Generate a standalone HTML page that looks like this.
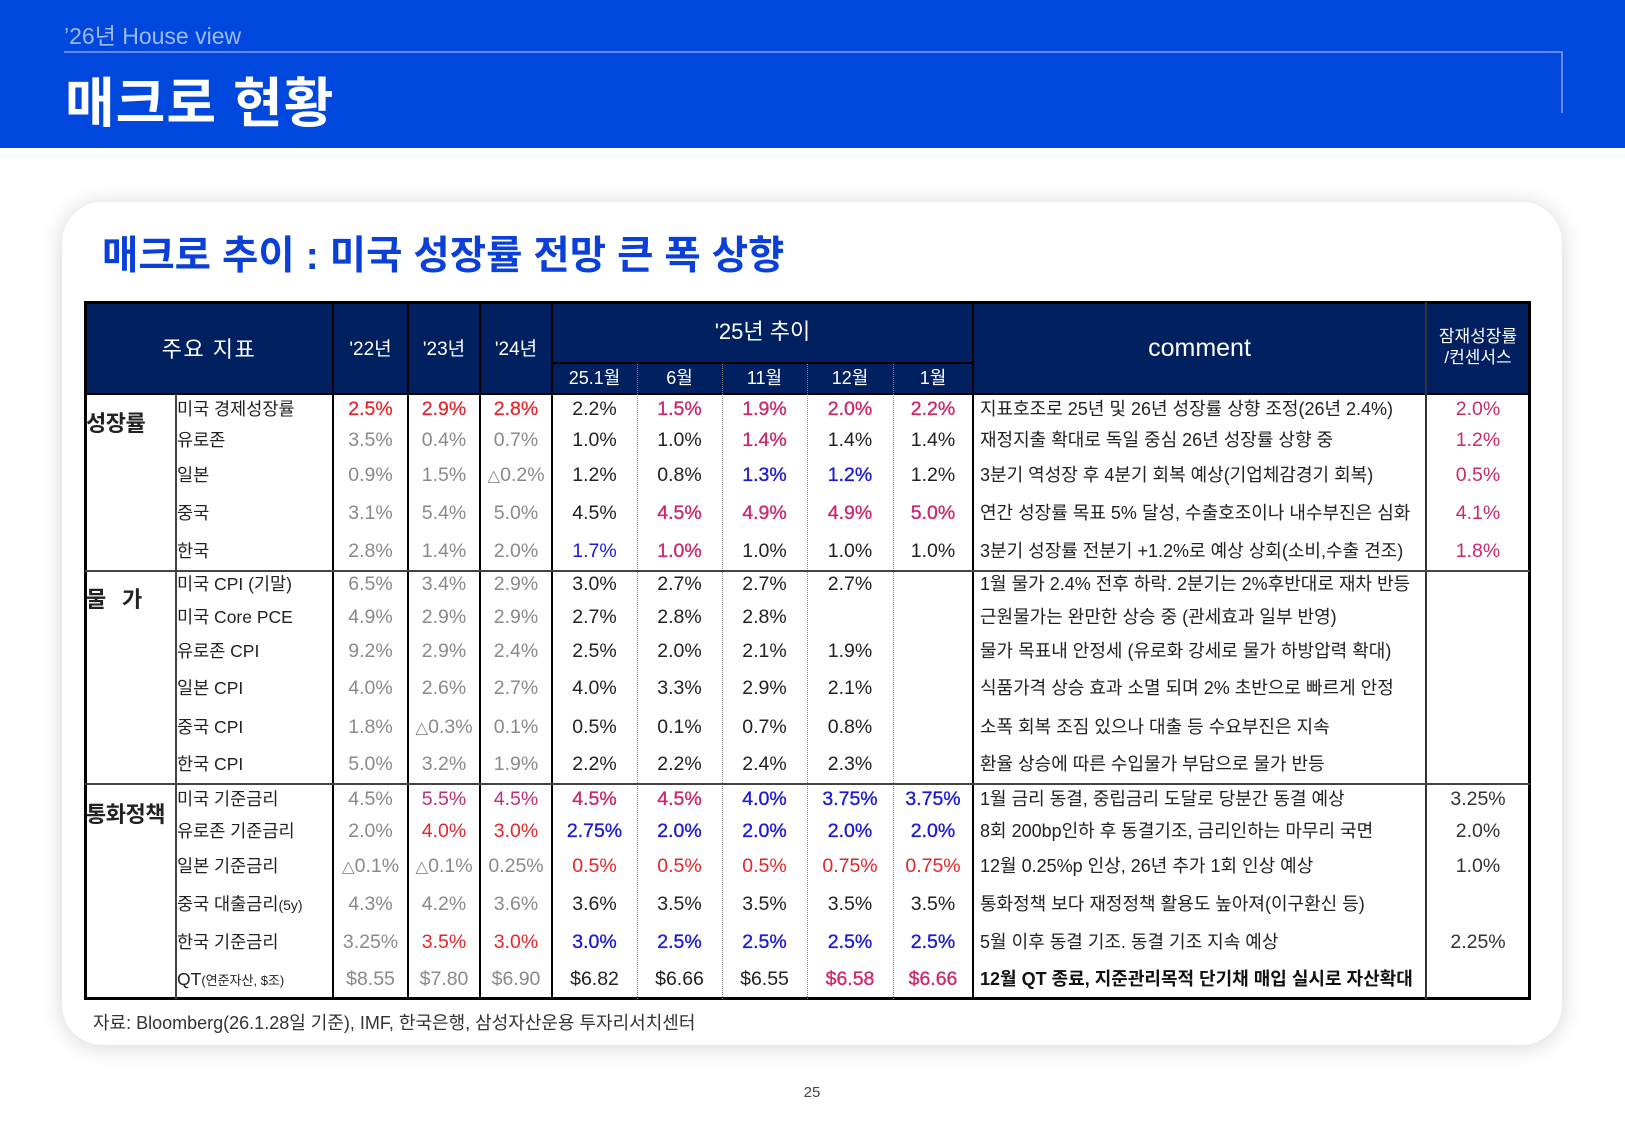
<!DOCTYPE html>
<html lang="ko">
<head>
<meta charset="utf-8">
<style>
  html,body{margin:0;padding:0;background:#fff;}
  #pg{position:relative;width:1625px;height:1125px;overflow:hidden;background:#fff;
      font-family:"Liberation Sans","Noto Sans CJK KR",sans-serif;color:#222;}
  .t{position:absolute;white-space:nowrap;}
  .ln{position:absolute;}
  .r{position:absolute;left:0;width:1625px;height:24px;line-height:24px;font-size:19.5px;}
  .r span{position:absolute;top:0;text-align:center;white-space:nowrap;}
  .r .lb{left:177px;text-align:left;font-size:17.5px;color:#222;}
  .r .cm{left:980px;text-align:left;font-size:18px;letter-spacing:0;color:#222;}
  .y1{left:333px;width:75px;} .y2{left:408px;width:72px;} .y3{left:480px;width:72px;}
  .m1{left:552px;width:85px;} .m2{left:637px;width:85px;} .m3{left:722px;width:85px;}
  .m4{left:807px;width:86px;} .m5{left:893px;width:80px;}
  .pt{left:1426px;width:104px;}
  .g{color:#8a8a8a;}
  .d{color:#222;}
  .rd{color:#e3262d;-webkit-text-stroke:0.25px #e3262d;}
  .rn{color:#e3262d;}
  .mg{color:#c9296d;-webkit-text-stroke:0.35px #c9296d;}
  .mn{color:#c9296d;}
  .pp{color:#bf2f72;}
  .bb{color:#1b1bd3;-webkit-text-stroke:0.35px #1b1bd3;}
  .bn{color:#1b1bd3;}
  .tri{font-family:"DejaVu Sans",sans-serif;font-size:0.85em;}
  .hd{position:absolute;color:#fff;text-align:center;white-space:nowrap;}
  .cat{position:absolute;font-size:22px;font-weight:bold;letter-spacing:-0.5px;color:#222;height:26px;line-height:26px;white-space:nowrap;}
  .sm{font-size:13px;}
  .sm2{font-size:14px;}
</style>
</head>
<body>
<div id="pg">

  <!-- top banner -->
  <div class="ln" style="left:0;top:0;width:1625px;height:148px;background:#0047de;"></div>
  <div class="ln" style="left:64px;top:51px;width:1499px;height:2px;background:#5f8cff;"></div>
  <div class="ln" style="left:1561px;top:51px;width:2px;height:62px;background:#5f8cff;"></div>
  <div class="t" style="left:64px;top:24px;height:24px;line-height:24px;font-size:23px;color:#9dbaff;">’26년 House view</div>
  <div class="t" style="left:65px;top:77px;height:54px;line-height:54px;font-size:54px;font-weight:bold;color:#fff;letter-spacing:1px;">매크로 현황</div>

  <!-- card -->
  <div class="ln" style="left:62px;top:202px;width:1500px;height:843px;border-radius:40px;background:#fff;box-shadow:0 2px 22px rgba(0,0,0,0.17);"></div>
  <div class="t" style="left:102px;top:236px;height:40px;line-height:40px;font-size:39.5px;font-weight:bold;color:#0a3fd8;letter-spacing:0px;">매크로 추이 : 미국 성장률 전망 큰 폭 상향</div>

  <!-- table header background -->
  <div class="ln" style="left:85px;top:302px;width:1445px;height:92px;background:#00205f;"></div>

  <!-- outer border -->
  <div class="ln" style="left:84px;top:301px;width:1447px;height:699px;border:3px solid #000;box-sizing:border-box;"></div>

  <!-- header lines -->
  <div class="ln" style="left:552px;top:362px;width:421px;height:2px;background:#000;"></div>
  <div class="ln" style="left:85px;top:393px;width:1445px;height:2px;background:#000;"></div>

  <!-- vertical lines -->
  <div class="ln" style="left:175px;top:394px;width:1.5px;height:605px;background:#444;"></div>
  <div class="ln" style="left:332px;top:302px;width:2px;height:697px;background:#000;"></div>
  <div class="ln" style="left:407px;top:302px;width:2px;height:697px;background:#000;"></div>
  <div class="ln" style="left:479px;top:302px;width:2px;height:697px;background:#000;"></div>
  <div class="ln" style="left:551px;top:302px;width:2px;height:697px;background:#000;"></div>
  <div class="ln" style="left:972px;top:302px;width:2px;height:697px;background:#000;"></div>
  <div class="ln" style="left:1425px;top:302px;width:1.5px;height:697px;background:#333;"></div>
  <!-- dotted -->
  <div class="ln" style="left:637px;top:364px;width:0;height:635px;border-left:1px dotted #8a8a8a;"></div>
  <div class="ln" style="left:722px;top:364px;width:0;height:635px;border-left:1px dotted #8a8a8a;"></div>
  <div class="ln" style="left:807px;top:364px;width:0;height:635px;border-left:1px dotted #8a8a8a;"></div>
  <div class="ln" style="left:893px;top:364px;width:0;height:635px;border-left:1px dotted #8a8a8a;"></div>

  <!-- group separators -->
  <div class="ln" style="left:85px;top:570px;width:1445px;height:1.5px;background:#444;"></div>
  <div class="ln" style="left:85px;top:783px;width:1445px;height:1.5px;background:#444;"></div>

  <!-- header text -->
  <div class="hd" style="left:85px;width:248px;top:337px;height:26px;line-height:26px;font-size:22px;letter-spacing:1.5px;">주요 지표</div>
  <div class="hd" style="left:333px;width:75px;top:338px;height:24px;line-height:24px;font-size:19px;">'22년</div>
  <div class="hd" style="left:408px;width:72px;top:338px;height:24px;line-height:24px;font-size:19px;">'23년</div>
  <div class="hd" style="left:480px;width:72px;top:338px;height:24px;line-height:24px;font-size:19px;">'24년</div>
  <div class="hd" style="left:552px;width:421px;top:319px;height:26px;line-height:26px;font-size:22px;">'25년 추이</div>
  <div class="hd" style="left:552px;width:85px;top:367px;height:22px;line-height:22px;font-size:18px;">25.1월</div>
  <div class="hd" style="left:637px;width:85px;top:367px;height:22px;line-height:22px;font-size:18px;">6월</div>
  <div class="hd" style="left:722px;width:85px;top:367px;height:22px;line-height:22px;font-size:18px;">11월</div>
  <div class="hd" style="left:807px;width:86px;top:367px;height:22px;line-height:22px;font-size:18px;">12월</div>
  <div class="hd" style="left:893px;width:80px;top:367px;height:22px;line-height:22px;font-size:18px;">1월</div>
  <div class="hd" style="left:973px;width:453px;top:333px;height:30px;line-height:30px;font-size:25px;">comment</div>
  <div class="hd" style="left:1426px;width:104px;top:326px;height:21px;line-height:21px;font-size:17px;">잠재성장률</div>
  <div class="hd" style="left:1426px;width:104px;top:347px;height:21px;line-height:21px;font-size:17px;">/컨센서스</div>

  <!-- category labels -->
  <div class="cat" style="left:86px;top:411px;">성장률</div>
  <div class="cat" style="left:86px;top:587px;">물</div>
  <div class="cat" style="left:122px;top:587px;">가</div>
  <div class="cat" style="left:86px;top:802px;">통화정책</div>

  <!-- 성장률 -->
  <div class="r" style="top:397px;">
    <span class="lb">미국 경제성장률</span>
    <span class="y1 rd">2.5%</span><span class="y2 rd">2.9%</span><span class="y3 rd">2.8%</span>
    <span class="m1 d">2.2%</span><span class="m2 mg">1.5%</span><span class="m3 mg">1.9%</span><span class="m4 mg">2.0%</span><span class="m5 mg">2.2%</span>
    <span class="cm">지표호조로 25년 및 26년 성장률 상향 조정(26년 2.4%)</span>
    <span class="pt mn">2.0%</span>
  </div>
  <div class="r" style="top:428px;">
    <span class="lb">유로존</span>
    <span class="y1 g">3.5%</span><span class="y2 g">0.4%</span><span class="y3 g">0.7%</span>
    <span class="m1 d">1.0%</span><span class="m2 d">1.0%</span><span class="m3 mg">1.4%</span><span class="m4 d">1.4%</span><span class="m5 d">1.4%</span>
    <span class="cm">재정지출 확대로 독일 중심 26년 성장률 상향 중</span>
    <span class="pt mn">1.2%</span>
  </div>
  <div class="r" style="top:463px;">
    <span class="lb">일본</span>
    <span class="y1 g">0.9%</span><span class="y2 g">1.5%</span><span class="y3 g"><span class="tri" style="position:static">△</span>0.2%</span>
    <span class="m1 d">1.2%</span><span class="m2 d">0.8%</span><span class="m3 bb">1.3%</span><span class="m4 bb">1.2%</span><span class="m5 d">1.2%</span>
    <span class="cm">3분기 역성장 후 4분기 회복 예상(기업체감경기 회복)</span>
    <span class="pt mn">0.5%</span>
  </div>
  <div class="r" style="top:501px;">
    <span class="lb">중국</span>
    <span class="y1 g">3.1%</span><span class="y2 g">5.4%</span><span class="y3 g">5.0%</span>
    <span class="m1 d">4.5%</span><span class="m2 mg">4.5%</span><span class="m3 mg">4.9%</span><span class="m4 mg">4.9%</span><span class="m5 mg">5.0%</span>
    <span class="cm">연간 성장률 목표 5% 달성, 수출호조이나 내수부진은 심화</span>
    <span class="pt mn">4.1%</span>
  </div>
  <div class="r" style="top:539px;">
    <span class="lb">한국</span>
    <span class="y1 g">2.8%</span><span class="y2 g">1.4%</span><span class="y3 g">2.0%</span>
    <span class="m1 bn">1.7%</span><span class="m2 mg">1.0%</span><span class="m3 d">1.0%</span><span class="m4 d">1.0%</span><span class="m5 d">1.0%</span>
    <span class="cm">3분기 성장률 전분기 +1.2%로 예상 상회(소비,수출 견조)</span>
    <span class="pt mn">1.8%</span>
  </div>

  <!-- 물가 -->
  <div class="r" style="top:572px;">
    <span class="lb">미국 CPI (기말)</span>
    <span class="y1 g">6.5%</span><span class="y2 g">3.4%</span><span class="y3 g">2.9%</span>
    <span class="m1 d">3.0%</span><span class="m2 d">2.7%</span><span class="m3 d">2.7%</span><span class="m4 d">2.7%</span>
    <span class="cm">1월 물가 2.4% 전후 하락. 2분기는 2%후반대로 재차 반등</span>
  </div>
  <div class="r" style="top:605px;">
    <span class="lb">미국 Core PCE</span>
    <span class="y1 g">4.9%</span><span class="y2 g">2.9%</span><span class="y3 g">2.9%</span>
    <span class="m1 d">2.7%</span><span class="m2 d">2.8%</span><span class="m3 d">2.8%</span>
    <span class="cm">근원물가는 완만한 상승 중 (관세효과 일부 반영)</span>
  </div>
  <div class="r" style="top:639px;">
    <span class="lb">유로존 CPI</span>
    <span class="y1 g">9.2%</span><span class="y2 g">2.9%</span><span class="y3 g">2.4%</span>
    <span class="m1 d">2.5%</span><span class="m2 d">2.0%</span><span class="m3 d">2.1%</span><span class="m4 d">1.9%</span>
    <span class="cm">물가 목표내 안정세 (유로화 강세로 물가 하방압력 확대)</span>
  </div>
  <div class="r" style="top:676px;">
    <span class="lb">일본 CPI</span>
    <span class="y1 g">4.0%</span><span class="y2 g">2.6%</span><span class="y3 g">2.7%</span>
    <span class="m1 d">4.0%</span><span class="m2 d">3.3%</span><span class="m3 d">2.9%</span><span class="m4 d">2.1%</span>
    <span class="cm">식품가격 상승 효과 소멸 되며 2% 초반으로 빠르게 안정</span>
  </div>
  <div class="r" style="top:715px;">
    <span class="lb">중국 CPI</span>
    <span class="y1 g">1.8%</span><span class="y2 g"><span class="tri" style="position:static">△</span>0.3%</span><span class="y3 g">0.1%</span>
    <span class="m1 d">0.5%</span><span class="m2 d">0.1%</span><span class="m3 d">0.7%</span><span class="m4 d">0.8%</span>
    <span class="cm">소폭 회복 조짐 있으나 대출 등 수요부진은 지속</span>
  </div>
  <div class="r" style="top:752px;">
    <span class="lb">한국 CPI</span>
    <span class="y1 g">5.0%</span><span class="y2 g">3.2%</span><span class="y3 g">1.9%</span>
    <span class="m1 d">2.2%</span><span class="m2 d">2.2%</span><span class="m3 d">2.4%</span><span class="m4 d">2.3%</span>
    <span class="cm">환율 상승에 따른 수입물가 부담으로 물가 반등</span>
  </div>

  <!-- 통화정책 -->
  <div class="r" style="top:787px;">
    <span class="lb">미국 기준금리</span>
    <span class="y1 g">4.5%</span><span class="y2 pp">5.5%</span><span class="y3 pp">4.5%</span>
    <span class="m1 mg">4.5%</span><span class="m2 mg">4.5%</span><span class="m3 bb">4.0%</span><span class="m4 bb">3.75%</span><span class="m5 bb">3.75%</span>
    <span class="cm">1월 금리 동결, 중립금리 도달로 당분간 동결 예상</span>
    <span class="pt" style="color:#333;">3.25%</span>
  </div>
  <div class="r" style="top:819px;">
    <span class="lb">유로존 기준금리</span>
    <span class="y1 g">2.0%</span><span class="y2 rn">4.0%</span><span class="y3 rn">3.0%</span>
    <span class="m1 bb">2.75%</span><span class="m2 bb">2.0%</span><span class="m3 bb">2.0%</span><span class="m4 bb">2.0%</span><span class="m5 bb">2.0%</span>
    <span class="cm">8회 200bp인하 후 동결기조, 금리인하는 마무리 국면</span>
    <span class="pt" style="color:#333;">2.0%</span>
  </div>
  <div class="r" style="top:854px;">
    <span class="lb">일본 기준금리</span>
    <span class="y1 g"><span class="tri" style="position:static">△</span>0.1%</span><span class="y2 g"><span class="tri" style="position:static">△</span>0.1%</span><span class="y3 g">0.25%</span>
    <span class="m1 rn">0.5%</span><span class="m2 rn">0.5%</span><span class="m3 rn">0.5%</span><span class="m4 rn">0.75%</span><span class="m5 rn">0.75%</span>
    <span class="cm">12월 0.25%p 인상, 26년 추가 1회 인상 예상</span>
    <span class="pt" style="color:#333;">1.0%</span>
  </div>
  <div class="r" style="top:892px;">
    <span class="lb">중국 대출금리<span class="sm2" style="position:static">(5y)</span></span>
    <span class="y1 g">4.3%</span><span class="y2 g">4.2%</span><span class="y3 g">3.6%</span>
    <span class="m1 d">3.6%</span><span class="m2 d">3.5%</span><span class="m3 d">3.5%</span><span class="m4 d">3.5%</span><span class="m5 d">3.5%</span>
    <span class="cm">통화정책 보다 재정정책 활용도 높아져(이구환신 등)</span>
  </div>
  <div class="r" style="top:930px;">
    <span class="lb">한국 기준금리</span>
    <span class="y1 g">3.25%</span><span class="y2 rn">3.5%</span><span class="y3 rn">3.0%</span>
    <span class="m1 bb">3.0%</span><span class="m2 bb">2.5%</span><span class="m3 bb">2.5%</span><span class="m4 bb">2.5%</span><span class="m5 bb">2.5%</span>
    <span class="cm">5월 이후 동결 기조. 동결 기조 지속 예상</span>
    <span class="pt" style="color:#333;">2.25%</span>
  </div>
  <div class="r" style="top:967px;">
    <span class="lb">QT<span class="sm" style="position:static">(연준자산, $조)</span></span>
    <span class="y1 g">$8.55</span><span class="y2 g">$7.80</span><span class="y3 g">$6.90</span>
    <span class="m1 d">$6.82</span><span class="m2 d">$6.66</span><span class="m3 d">$6.55</span><span class="m4 mg">$6.58</span><span class="m5 mg">$6.66</span>
    <span class="cm" style="font-weight:bold;color:#111;">12월 QT 종료, 지준관리목적 단기채 매입 실시로 자산확대</span>
  </div>

  <!-- footnote -->
  <div class="t" style="left:93px;top:1011px;height:24px;line-height:24px;font-size:18px;color:#333;">자료: Bloomberg(26.1.28일 기준), IMF, 한국은행, 삼성자산운용 투자리서치센터</div>

  <!-- page number -->
  <div class="t" style="left:792px;top:1083px;width:40px;height:20px;line-height:20px;text-align:center;font-size:15px;color:#444;">25</div>

</div>
</body>
</html>
